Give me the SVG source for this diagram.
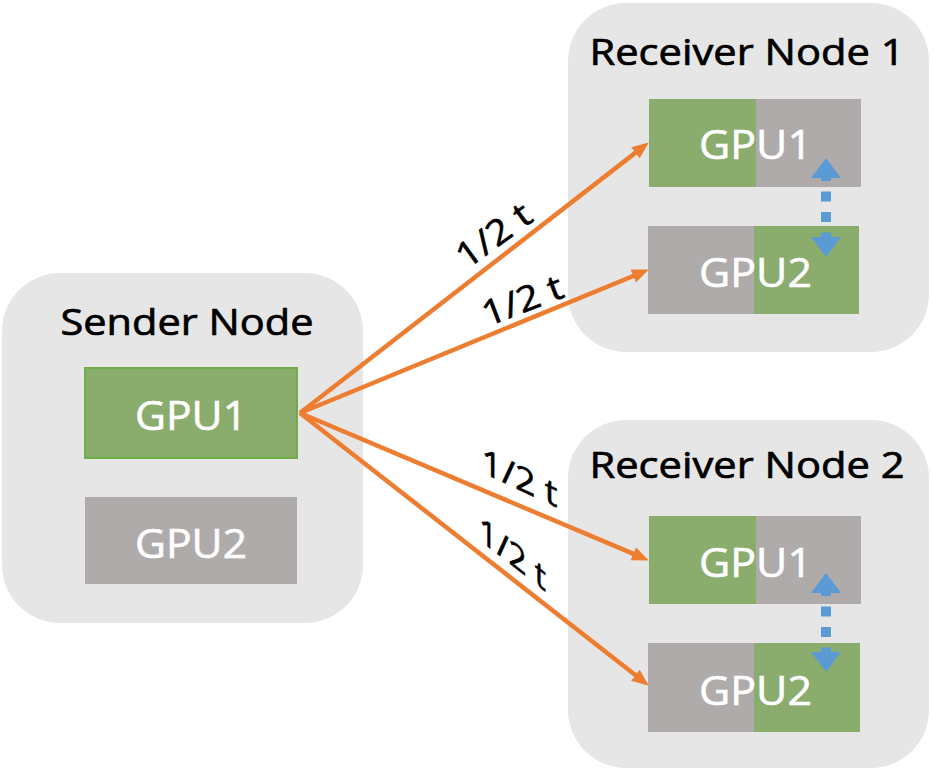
<svg xmlns="http://www.w3.org/2000/svg" width="934" height="772" viewBox="0 0 934 772">
<defs>
<style>
.node{fill:#e7e6e6}
.green{fill:#8aad6e}
.gray{fill:#afabab}
.title{font-family:"Open Sans","Liberation Sans",sans-serif;font-size:37px;fill:#000;stroke:#000;stroke-width:0.7;text-anchor:middle}
.gpu{font-family:"Open Sans","Liberation Sans",sans-serif;font-size:41px;fill:#fff;stroke:#fff;stroke-width:0.6;text-anchor:middle}
.lbl{font-family:"Open Sans","Liberation Sans",sans-serif;font-size:35px;fill:#000;stroke:#000;stroke-width:0.6;text-anchor:middle}
.orange{stroke:#ed7d31;stroke-width:4.5;fill:none;marker-end:url(#ah)}
.blue{stroke:#5b9bd5;stroke-width:10;stroke-dasharray:10 10.5;fill:none}
.bh{fill:#5b9bd5}
</style>
<marker id="ah" markerUnits="userSpaceOnUse" markerWidth="18" markerHeight="16" refX="8" refY="7" orient="auto" viewBox="0 0 18 14">
<path d="M0,0 L17,7 L0,14 z" fill="#ed7d31"/>
</marker>
</defs>

<g id="sender">
<rect class="node" x="2" y="273" width="361" height="350" rx="58"/>
<text class="title" x="187" y="335" textLength="253" lengthAdjust="spacingAndGlyphs">Sender Node</text>
<g id="sender-gpu1">
<rect x="85" y="368" width="212" height="90" fill="#8aad6e" stroke="#70ad47" stroke-width="2"/>
<text class="gpu" x="191" y="430" textLength="112" lengthAdjust="spacingAndGlyphs">GPU1</text>
</g>
<g id="sender-gpu2">
<rect class="gray" x="85" y="497" width="212" height="87"/>
<text class="gpu" x="191" y="558" textLength="112" lengthAdjust="spacingAndGlyphs">GPU2</text>
</g>
</g>

<g id="receiver1">
<rect class="node" x="568" y="3" width="361" height="349" rx="58"/>
<text class="title" x="747" y="65" textLength="315" lengthAdjust="spacingAndGlyphs">Receiver Node 1</text>
<g id="r1-gpu1">
<rect class="green" x="649" y="99" width="107" height="88"/>
<rect class="gray" x="756" y="99" width="105" height="88"/>
<text class="gpu" x="755.5" y="159" textLength="113" lengthAdjust="spacingAndGlyphs">GPU1</text>
</g>
<g id="r1-gpu2">
<rect class="gray" x="648" y="226" width="106" height="88"/>
<rect class="green" x="754" y="226" width="105" height="88"/>
<text class="gpu" x="755.5" y="287" textLength="113" lengthAdjust="spacingAndGlyphs">GPU2</text>
</g>
</g>

<g id="receiver2">
<rect class="node" x="568" y="420" width="361" height="348" rx="58"/>
<text class="title" x="747" y="478" textLength="315" lengthAdjust="spacingAndGlyphs">Receiver Node 2</text>
<g id="r2-gpu1">
<rect class="green" x="649" y="516" width="107" height="88"/>
<rect class="gray" x="756" y="516" width="105" height="88"/>
<text class="gpu" x="755.5" y="577" textLength="113" lengthAdjust="spacingAndGlyphs">GPU1</text>
</g>
<g id="r2-gpu2">
<rect class="gray" x="648" y="643" width="106" height="89"/>
<rect class="green" x="754" y="643" width="106" height="89"/>
<text class="gpu" x="755.5" y="705" textLength="113" lengthAdjust="spacingAndGlyphs">GPU2</text>
</g>
</g>

<g id="connectors">
<line class="orange" x1="300" y1="413" x2="641.7" y2="147.9"/>
<line class="orange" x1="300" y1="413" x2="640.6" y2="273"/>
<line class="orange" x1="300" y1="413" x2="640.6" y2="556.9"/>
<line class="orange" x1="300" y1="413" x2="641.7" y2="680.1"/>

<g id="blue1">
<line class="blue" x1="826" y1="171" x2="826" y2="244"/>
<polygon class="bh" points="826,158 841,178 811,178"/>
<polygon class="bh" points="826,257 841,237 811,237"/>
</g>
<g id="blue2">
<line class="blue" x1="826" y1="586" x2="826" y2="659"/>
<polygon class="bh" points="826,573 841,593 811,593"/>
<polygon class="bh" points="826,672 841,652 811,652"/>
</g>

<text class="lbl" transform="translate(500.8,245) rotate(-36)" textLength="84" lengthAdjust="spacingAndGlyphs">1/2 t</text>
<text class="lbl" transform="translate(526.7,311.7) rotate(-21)" textLength="84" lengthAdjust="spacingAndGlyphs">1/2 t</text>
<text class="lbl" transform="translate(519.5,490) skewY(25)" textLength="76" lengthAdjust="spacingAndGlyphs">1/2 t</text>
<text class="lbl" transform="translate(512.5,565.8) skewY(38)" textLength="67" lengthAdjust="spacingAndGlyphs">1/2 t</text>
</g>
</svg>
